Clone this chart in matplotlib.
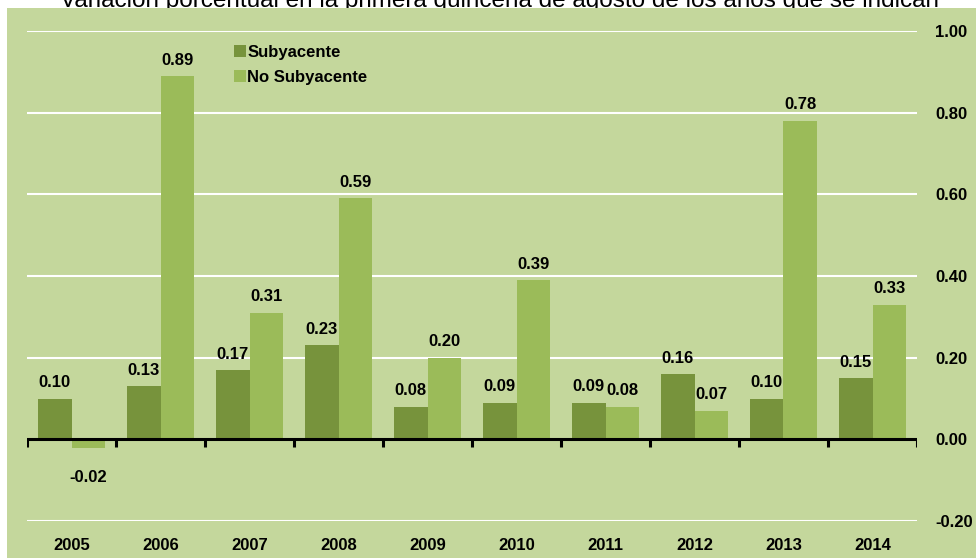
import matplotlib
matplotlib.use("Agg")
import matplotlib.pyplot as plt
from matplotlib.patches import Rectangle
import numpy as np

plt.rcParams['font.family'] = ['Liberation Sans', 'DejaVu Sans']

years = ['2005', '2006', '2007', '2008', '2009', '2010', '2011', '2012', '2013', '2014']
subyacente = [0.10, 0.13, 0.17, 0.23, 0.08, 0.09, 0.09, 0.16, 0.10, 0.15]
no_subyacente = [-0.02, 0.89, 0.31, 0.59, 0.20, 0.39, 0.08, 0.07, 0.78, 0.33]
yticks = [-0.20, 0.00, 0.20, 0.40, 0.60, 0.80, 1.00]
title = 'Variación porcentual en la primera quincena de agosto de los años que se indican'

W, H = 976, 558
fig = plt.figure(figsize=(W / 100, H / 100), dpi=100)
fig.patch.set_facecolor('white')

bg = '#C4D79C'
dark = '#77933C'
light = '#9BBB59'

# green panel
fig.patches.append(Rectangle((7 / W, 0), 1 - 7 / W, 1 - 8 / H, transform=fig.transFigure,
                             facecolor=bg, edgecolor='none', zorder=-5))

fig.text(0.512, 1 - 7 / H, title, ha='center', va='baseline', fontsize=17.5, color='black',
         zorder=-6)

ax = fig.add_axes([27 / W, (H - 521) / H, (917 - 27) / W, (521 - 31) / H])
ax.set_facecolor('none')

x = np.arange(len(years))
bw = 0.38
b1 = ax.bar(x - bw / 2, subyacente, bw, color=dark, label='Subyacente', zorder=3)
b2 = ax.bar(x + bw / 2, no_subyacente, bw, color=light, label='No Subyacente', zorder=3)

for bars, vals in ((b1, subyacente), (b2, no_subyacente)):
    for rect, v in zip(bars, vals):
        cx = rect.get_x() + rect.get_width() / 2
        if v >= 0:
            ax.annotate(f'{v:.2f}', (cx, v), xytext=(0, 6), textcoords='offset points',
                        ha='center', va='bottom', fontsize=12, fontweight='bold', zorder=5)
        else:
            ax.annotate(f'{v:.2f}', (cx, 0), xytext=(0, -22), textcoords='offset points',
                        ha='center', va='top', fontsize=12, fontweight='bold', zorder=5)

ax.set_xlim(-0.5, len(years) - 0.5)
ax.set_ylim(-0.2, 1.0)
ax.set_yticks(yticks)
ax.set_yticklabels([f'{t:.2f}' for t in yticks], fontsize=12, fontweight='bold')
ax.yaxis.tick_right()
ax.tick_params(axis='y', length=0, pad=13)
ax.set_xticks(x)
ax.set_xticklabels(years, fontsize=12, fontweight='bold')
ax.tick_params(axis='x', length=0, pad=12)
for s in ax.spines.values():
    s.set_visible(False)

for t in yticks:
    if t != 0:
        ax.axhline(t, color='white', lw=1.5, zorder=1)

# zero axis line with category separator ticks
ax.axhline(0, color='black', lw=2.2, zorder=4)
bounds = np.arange(len(years) + 1) - 0.5
ax.vlines(bounds, 0, -0.018, color='black', lw=2.2, zorder=4)

leg = ax.legend(loc='upper left', bbox_to_anchor=(0.225, 0.985), frameon=False,
                prop={'size': 12, 'weight': 'bold'}, handlelength=0.7, handleheight=0.7,
                handletextpad=0.1, labelspacing=0.6, borderaxespad=0)

fig.savefig('out.png', dpi=100, facecolor=fig.get_facecolor())
